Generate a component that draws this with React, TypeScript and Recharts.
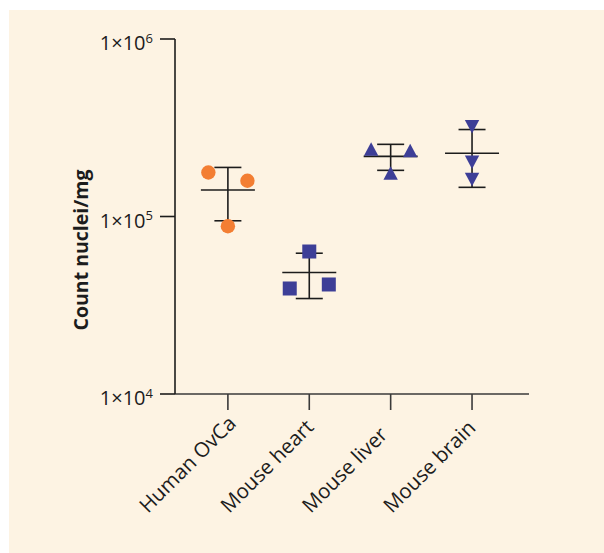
import React from "react";
import { ScatterChart, Scatter, XAxis, YAxis, ErrorBar } from "recharts";

const categories = ["Human OvCa", "Mouse heart", "Mouse liver", "Mouse brain"];
const yTicks = [10000, 100000, 1000000];

// individual points: [x position, value]
const ovcaPoints = [
  { x: 0.76, y: 177000 },
  { x: 1.24, y: 159000 },
  { x: 1.0, y: 88200 },
];
const heartPoints = [
  { x: 2.0, y: 63500 },
  { x: 1.76, y: 39300 },
  { x: 2.24, y: 41400 },
];
const liverPoints = [
  { x: 2.76, y: 239000 },
  { x: 3.24, y: 235000 },
  { x: 3.0, y: 175000 },
];
const brainPoints = [
  { x: 4.0, y: 321000 },
  { x: 4.0, y: 203000 },
  { x: 4.0, y: 162000 },
];

// mean with lower/upper SD bounds
const summaryMeans = [141000, 48400, 218000, 227000];
const summaryLow = [94600, 34500, 182000, 146000];
const summaryHigh = [189000, 62100, 255000, 309000];

const summaryData = categories.map((c, i) => ({
  x: i + 1,
  y: summaryMeans[i],
  err: [summaryMeans[i] - summaryLow[i], summaryHigh[i] - summaryMeans[i]],
}));

const ORANGE = "#f37e33";
const BLUE = "#3d3e97";
const INK = "#1c1c1c";
const BG = "#fdf3e3";
const FONT = "'Open Sans', sans-serif";

const CircleShape = (p: any) => <circle cx={p.cx} cy={p.cy} r={7.2} fill={ORANGE} />;
const SquareShape = (p: any) => (
  <rect x={p.cx - 7} y={p.cy - 7} width={14} height={14} fill={BLUE} />
);
const TriUpShape = (p: any) => (
  <polygon
    points={`${p.cx},${p.cy - 7} ${p.cx + 7.2},${p.cy + 6.5} ${p.cx - 7.2},${p.cy + 6.5}`}
    fill={BLUE}
  />
);
const TriDownShape = (p: any) => (
  <polygon
    points={`${p.cx - 7.2},${p.cy - 6.5} ${p.cx + 7.2},${p.cy - 6.5} ${p.cx},${p.cy + 7}`}
    fill={BLUE}
  />
);
const MeanShape = (p: any) => (
  <line x1={p.cx - 27} x2={p.cx + 27} y1={p.cy} y2={p.cy} stroke={INK} strokeWidth={1.6} />
);

const YTick = (p: any) => {
  const exp = Math.round(Math.log10(p.payload.value));
  return (
    <text x={p.x} y={p.y + 11} textAnchor="end" fontFamily={FONT} fontSize={20} fill={INK}>
      <tspan>1×10</tspan>
      <tspan dy={-7.5} fontSize={13}>
        {exp}
      </tspan>
    </text>
  );
};

const XTick = (p: any) => {
  const label = categories[Math.round(p.payload.value) - 1];
  const ax = p.x - 80;
  const ay = p.y + 104;
  return (
    <text
      x={ax}
      y={ay}
      textAnchor="start"
      transform={`rotate(-45 ${ax} ${ay})`}
      fontFamily={FONT}
      fontSize={20.5}
      fill={INK}
    >
      {label}
    </text>
  );
};

const YLabel = () => (
  <text
    x={71}
    y={240}
    transform="rotate(-90 71 240)"
    textAnchor="middle"
    dominantBaseline="central"
    fontFamily={FONT}
    fontWeight="bold"
    fontSize={19.5}
    fill={INK}
  >
    Count nuclei/mg
  </text>
);

export default function App() {
  return (
    <>
      <style>{`html,body{margin:0;overflow:hidden;background:#ffffff}`}</style>
      <div
        style={{
          position: "absolute",
          left: 9,
          top: 10,
          width: 595,
          height: 543,
          background: BG,
        }}
      >
        <ScatterChart width={595} height={543} margin={{ top: 29, right: 75, bottom: 0, left: 0 }}>
          <XAxis
            type="number"
            dataKey="x"
            domain={[0.35, 4.7]}
            ticks={[1, 2, 3, 4]}
            allowDataOverflow
            height={159}
            tickSize={16}
            tickMargin={0}
            axisLine={{ stroke: "#3a3a3a", strokeWidth: 1.6 }}
            tickLine={{ stroke: "#3a3a3a", strokeWidth: 1.6 }}
            tick={<XTick />}
            interval={0}
          />
          <YAxis
            type="number"
            dataKey="y"
            scale="log"
            domain={[10000, 1000000]}
            ticks={yTicks}
            allowDataOverflow
            width={166}
            tickSize={15}
            tickMargin={7}
            axisLine={{ stroke: INK, strokeWidth: 1.6 }}
            tickLine={{ stroke: INK, strokeWidth: 1.6 }}
            tick={<YTick />}
            interval={0}
            label={<YLabel />}
          />
          <Scatter data={summaryData} shape={<MeanShape />} isAnimationActive={false}>
            <ErrorBar dataKey="err" direction="y" width={13.5} stroke={INK} strokeWidth={1.6} />
          </Scatter>
          <Scatter data={ovcaPoints} shape={<CircleShape />} isAnimationActive={false} />
          <Scatter data={heartPoints} shape={<SquareShape />} isAnimationActive={false} />
          <Scatter data={liverPoints} shape={<TriUpShape />} isAnimationActive={false} />
          <Scatter data={brainPoints} shape={<TriDownShape />} isAnimationActive={false} />
        </ScatterChart>
      </div>
    </>
  );
}
